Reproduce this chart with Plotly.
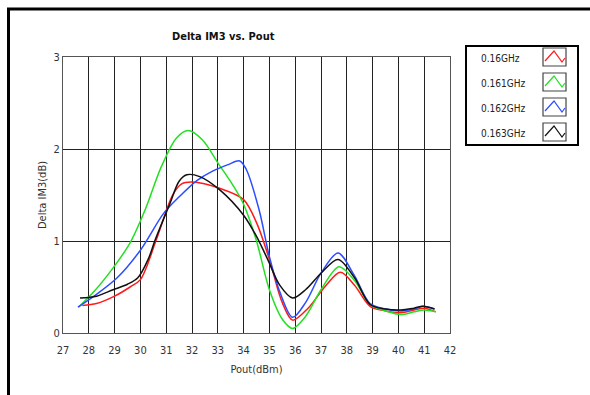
import plotly.graph_objects as go

series_names = ["0.16GHz", "0.161GHz", "0.162GHz", "0.163GHz"]
series_colors = ["#ff1a1a", "#22e022", "#2a4dff", "#111111"]

red_x = [27.75, 28.3, 29.0, 29.6, 30.0, 30.6, 31.25, 31.6, 32.0, 33.1, 34.0, 34.5, 35.0, 35.5, 35.9, 36.5, 37.2, 37.75, 38.3, 38.9, 39.5, 40.1, 40.6, 41.0, 41.45]
red_y = [0.30, 0.32, 0.40, 0.50, 0.58, 1.00, 1.50, 1.62, 1.64, 1.57, 1.45, 1.20, 0.80, 0.33, 0.14, 0.27, 0.52, 0.66, 0.52, 0.29, 0.24, 0.22, 0.25, 0.27, 0.23]

green_x = [27.6, 28.2, 29.0, 29.6, 30.2, 30.8, 31.4, 31.85, 32.4, 33.0, 33.6, 34.0, 34.5, 35.0, 35.5, 35.9, 36.4, 37.0, 37.7, 38.3, 38.9, 39.5, 40.1, 40.6, 41.0, 41.45]
green_y = [0.28, 0.45, 0.73, 0.98, 1.35, 1.80, 2.12, 2.20, 2.10, 1.85, 1.60, 1.40, 1.00, 0.47, 0.15, 0.05, 0.18, 0.47, 0.72, 0.57, 0.31, 0.24, 0.20, 0.23, 0.25, 0.23]

blue_x = [27.58, 28.2, 29.1, 30.0, 30.9, 31.5, 32.2, 32.8, 33.4, 33.85, 34.1, 34.6, 35.0, 35.4, 35.9, 36.4, 37.0, 37.66, 38.3, 38.9, 39.5, 40.1, 40.6, 40.95, 41.4]
blue_y = [0.28, 0.40, 0.60, 0.90, 1.30, 1.48, 1.66, 1.76, 1.83, 1.87, 1.78, 1.34, 0.83, 0.45, 0.17, 0.33, 0.65, 0.87, 0.62, 0.32, 0.26, 0.24, 0.26, 0.29, 0.26]

black_x = [27.66, 28.3, 28.94, 29.5, 29.9, 30.3, 30.57, 31.15, 31.5, 31.8, 32.3, 33.1, 34.0, 34.5, 34.95, 35.4, 35.9, 36.4, 37.0, 37.66, 38.3, 38.9, 39.5, 40.1, 40.6, 40.95, 41.4]
black_y = [0.38, 0.40, 0.47, 0.53, 0.60, 0.80, 1.01, 1.41, 1.65, 1.72, 1.70, 1.55, 1.28, 1.05, 0.79, 0.52, 0.38, 0.47, 0.65, 0.80, 0.60, 0.31, 0.26, 0.25, 0.27, 0.29, 0.26]

x_ticks = list(range(27, 43))
y_ticks = [0, 1, 2, 3]

FONT = "Liberation Sans Narrow, DejaVu Sans Condensed, Liberation Sans, sans-serif"
W, H = 590, 395
L, R, T, B = 63, 140, 57, 62
pw, ph = W - L - R, H - T - B

def px(x):
    return (x - L) / pw

def py(y):
    return (H - B - y) / ph

fig = go.Figure()
for xs, ys, name, col in zip([red_x, green_x, blue_x, black_x],
                             [red_y, green_y, blue_y, black_y],
                             series_names, series_colors):
    fig.add_trace(go.Scatter(x=xs, y=ys, name=name, mode="lines",
                             line=dict(color=col, width=1.5, shape="spline", smoothing=0.9),
                             showlegend=False))

shapes = []
annotations = []
# outer frame
shapes.append(dict(type="rect", xref="paper", yref="paper",
                   x0=px(8.5), x1=px(620), y0=py(420), y1=py(9),
                   line=dict(color="black", width=3), fillcolor="rgba(0,0,0,0)"))
# legend box
lx0, lx1, ly0, ly1 = 466, 578, 46, 145
shapes.append(dict(type="rect", xref="paper", yref="paper",
                   x0=px(lx0), x1=px(lx1), y0=py(ly1), y1=py(ly0),
                   line=dict(color="black", width=2), fillcolor="white"))
for i, (name, col) in enumerate(zip(series_names, series_colors)):
    top = 48 + 25 * i
    bot = top + 18
    bx0, bx1 = 543, 566
    shapes.append(dict(type="rect", xref="paper", yref="paper",
                       x0=px(bx0), x1=px(bx1), y0=py(bot), y1=py(top),
                       line=dict(color="#444", width=1.2), fillcolor="white"))
    pts = [(bx0 + 2, bot - 5), (bx0 + 11, top + 3), (bx1 - 4, bot - 4), (bx1 - 1, bot - 8)]
    path = "M " + " L ".join(f"{px(a):.5f},{py(b):.5f}" for a, b in pts)
    shapes.append(dict(type="path", xref="paper", yref="paper", path=path,
                       line=dict(color=col, width=1.2)))
    annotations.append(dict(text=name, xref="paper", yref="paper",
                            x=px(479), y=py((top + bot) / 2 + 1), xanchor="left", yanchor="middle",
                            showarrow=False, font=dict(family=FONT, size=10, color="#222")))

annotations.append(dict(text="<b>Delta IM3 vs. Pout</b>", xref="paper", yref="paper",
                        x=px(223), y=py(36), xanchor="center", yanchor="middle", showarrow=False,
                        font=dict(family=FONT, size=11, color="#111")))

fig.update_layout(
    width=W, height=H,
    margin=dict(l=L, r=R, t=T, b=B),
    paper_bgcolor="white", plot_bgcolor="white",
    font=dict(family=FONT, size=11, color="#333"),
    shapes=shapes, annotations=annotations,
    xaxis=dict(range=[27, 42], tickvals=x_ticks, ticktext=[str(v) for v in x_ticks],
               showgrid=True, gridcolor="#222", gridwidth=1,
               showline=True, linecolor="#555", mirror=True, linewidth=1,
               ticks="outside", ticklen=7, tickcolor="rgba(0,0,0,0)", zeroline=False,
               title=dict(text="Pout(dBm)", font=dict(family=FONT, size=11, color="#333"), standoff=9),
               tickfont=dict(family=FONT, size=11, color="#333")),
    yaxis=dict(range=[0, 3], tickvals=y_ticks, ticktext=[str(v) for v in y_ticks],
               showgrid=True, gridcolor="#222", gridwidth=1,
               showline=True, linecolor="#555", mirror=True, linewidth=1,
               ticks="", zeroline=False,
               title=dict(text="Delta IM3(dB)", font=dict(family=FONT, size=11, color="#333"), standoff=4),
               tickfont=dict(family=FONT, size=11, color="#333")),
)

fig.write_html("out.html")
